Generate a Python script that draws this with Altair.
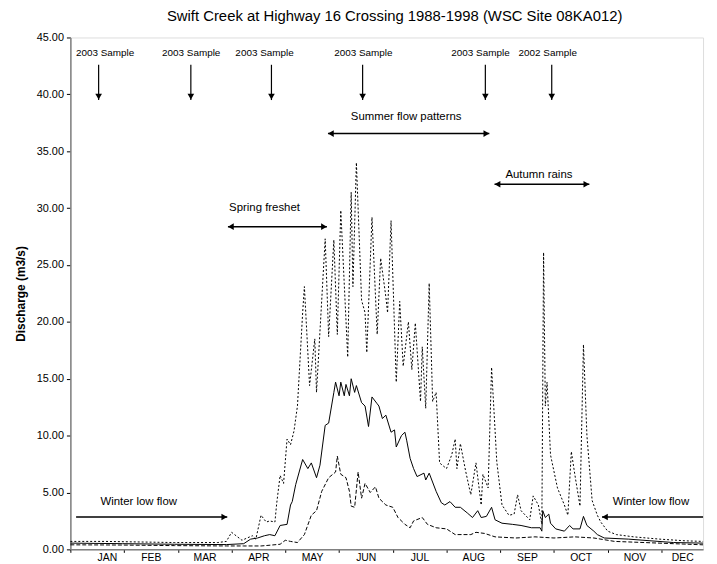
import altair as alt
import pandas as pd

# ---------------- data (day of year, discharge m3/s) ----------------
max_days = [0, 20, 40, 60, 85, 90, 93, 99, 102, 105, 107, 110, 113, 115, 118, 119, 121, 123, 125, 127,
            129, 131, 134, 135, 138, 141, 142, 147, 149, 152, 154, 156, 160, 162, 163, 165, 168, 170,
            171, 174, 177, 179, 182, 183, 185, 188, 190, 192, 195, 197, 199, 202, 203, 205, 207, 209,
            211, 213, 217, 220, 222, 223, 225, 228, 231, 234, 237, 238, 241, 243, 246, 249, 253, 256,
            258, 260, 265, 267, 270, 272, 273, 274, 275, 277, 281, 285, 287, 289, 291, 294, 296, 298,
            301, 304, 306, 310, 315, 325, 340, 355, 365]
max_vals = [0.7, 0.7, 0.65, 0.6, 0.6, 0.7, 1.5, 0.8, 1.0, 1.2, 0.9, 3.0, 2.4, 2.5, 2.4, 4.0, 6.5, 5.8, 9.7, 9.2,
            10.4, 12.6, 20.8, 23.1, 14.4, 18.5, 13.8, 27.3, 18.7, 27.2, 18.9, 29.8, 16.9, 31.4, 23.1, 34.0, 21.9, 20.8,
            17.3, 29.2, 18.9, 25.6, 22.2, 20.8, 28.9, 14.7, 21.8, 16.1, 20.0, 15.8, 19.9, 13.0, 17.8, 12.4, 23.4, 13.0,
            13.8, 7.6, 7.1, 8.3, 9.7, 7.1, 9.3, 6.9, 4.8, 7.6, 3.9, 6.6, 5.4, 16.0, 7.7, 3.9, 3.0, 3.1,
            4.8, 3.4, 2.6, 4.7, 3.9, 2.2, 26.1, 12.6, 14.7, 8.3, 5.4, 3.9, 3.0, 8.6, 6.6, 3.8, 18.0, 10.0,
            4.3, 3.0, 2.4, 1.6, 1.3, 1.1, 0.9, 0.75, 0.7]

mean_days = [0, 30, 60, 90, 100, 104, 108, 112, 115, 118, 121, 125, 127, 128, 130, 134, 137, 139, 142, 144,
             147, 149, 152, 153, 155, 156, 158, 159, 161, 162, 164, 165, 168, 170, 172, 174, 177, 178, 180,
             182, 185, 187, 188, 191, 193, 194, 196, 198, 200, 204, 205, 207, 211, 214, 216, 219, 222, 225,
             229, 232, 235, 237, 240, 243, 245, 249, 255, 260, 266, 271, 272, 272.5, 274, 276, 277, 280,
             285, 288, 290, 294, 296, 298, 302, 304, 308, 322, 335, 348, 365]
mean_vals = [0.55, 0.5, 0.45, 0.42, 0.5, 0.9, 1.0, 1.2, 1.3, 1.2, 2.1, 2.2, 3.9, 4.2, 5.7, 7.9, 7.1, 7.6, 6.3, 7.4,
             10.9, 11.1, 13.8, 14.7, 13.5, 14.7, 13.5, 14.5, 13.5, 15.0, 13.8, 14.4, 12.9, 12.6, 10.8, 13.4, 12.8, 12.6, 11.5,
             11.8, 10.3, 10.5, 9.0, 10.0, 10.3, 9.6, 8.0, 7.1, 6.4, 6.7, 6.1, 6.7, 5.1, 4.1, 3.9, 4.2, 3.7, 3.7,
             3.2, 2.8, 3.4, 2.8, 2.9, 3.7, 2.6, 2.3, 2.2, 2.1, 1.9, 1.9, 1.6, 3.4, 2.8, 3.1, 2.3, 1.8,
             1.6, 2.1, 1.8, 1.8, 2.9, 2.1, 1.6, 1.3, 1.0, 0.9, 0.75, 0.6, 0.55]

min_days = [0, 30, 60, 90, 100, 110, 114, 121, 124, 127, 131, 135, 139, 142, 145, 149, 153, 154, 156, 159,
            161, 162, 164, 166, 168, 170, 173, 176, 178, 182, 186, 189, 193, 196, 198, 203, 206, 211, 217,
            222, 231, 234, 239, 245, 257, 268, 279, 291, 302, 314, 331, 348, 365]
min_vals = [0.4, 0.38, 0.33, 0.3, 0.3, 0.3, 0.35, 0.45, 0.8, 0.7, 0.6, 1.3, 3.0, 3.4, 5.1, 6.3, 6.8, 8.2, 6.6, 6.3,
            5.1, 3.8, 3.7, 6.8, 4.5, 5.8, 5.0, 5.5, 4.5, 3.9, 3.7, 2.8, 2.2, 1.9, 2.5, 2.8, 2.2, 1.9, 1.8,
            1.3, 1.3, 1.5, 1.4, 1.1, 1.0, 1.1, 1.0, 1.1, 1.0, 0.7, 0.6, 0.5, 0.4]

months = ["JAN", "FEB", "MAR", "APR", "MAY", "JUN", "JUL", "AUG", "SEP", "OCT", "NOV", "DEC"]
month_starts = [0, 31, 62, 93, 124, 155, 186, 217, 248, 279, 310, 341]
y_ticks = [0, 5, 10, 15, 20, 25, 30, 35, 40, 45]

# sample markers (vertical arrows)
sample_text = ["2003 Sample", "2003 Sample", "2003 Sample", "2003 Sample", "2003 Sample", "2002 Sample"]
sample_text_day = [20, 69.7, 112, 169, 236.6, 275.4]
sample_text_val = [43.6, 43.6, 43.6, 43.6, 43.6, 43.6]
sample_arrow_day = [16.3, 69.5, 116, 168.6, 239.4, 277.7]
sample_arrow_top = [42.6, 42.6, 42.6, 42.6, 42.6, 42.6]
sample_arrow_tip = [39.5, 39.5, 39.5, 39.5, 39.5, 39.5]

# period annotations (horizontal arrows)
period_text = ["Summer flow patterns", "Autumn rains", "Spring freshet", "Winter low flow", "Winter low flow"]
period_text_day = [193.7, 270.3, 112, 39.4, 334.9]
period_text_val = [38.0, 32.9, 29.97, 4.18, 4.18]
period_from = [148.6, 244.7, 90.9, 3.3, 306.7]
period_to = [241.7, 299.4, 148.0, 90.5, 365]
period_val = [36.55, 32.1, 28.37, 2.85, 2.85]

head_day = [150.3, 240.0, 246.4, 297.7, 92.6, 146.3, 88.8, 308.4]
head_val = [36.55, 36.55, 32.1, 32.1, 28.37, 28.37, 2.85, 2.85]
head_shape = ["triangle-left", "triangle-right", "triangle-left", "triangle-right",
              "triangle-left", "triangle-right", "triangle-right", "triangle-left"]

# ---------------- tables ----------------
df_max = pd.DataFrame({"day": max_days, "q": max_vals})
df_mean = pd.DataFrame({"day": mean_days, "q": mean_vals})
df_min = pd.DataFrame({"day": min_days, "q": min_vals})
df_stxt = pd.DataFrame({"day": sample_text_day, "q": sample_text_val, "t": sample_text})
df_sarr = pd.DataFrame({"day": sample_arrow_day, "top": sample_arrow_top, "tip": sample_arrow_tip})
df_shead = pd.DataFrame({"day": sample_arrow_day, "q": [v + 0.3 for v in sample_arrow_tip]})
df_ptxt = pd.DataFrame({"day": period_text_day, "q": period_text_val, "t": period_text})
df_parr = pd.DataFrame({"d1": period_from, "d2": period_to, "q": period_val})
df_phead = pd.DataFrame({"day": head_day, "q": head_val, "s": head_shape})

FONT = "Liberation Sans"

label_expr = "[" + ",".join("'%s'" % m for m in months) + "][round(datum.value/31)]"

x_enc = alt.X(
    "day:Q",
    scale=alt.Scale(domain=[0, 365], nice=False, zero=False),
    axis=alt.Axis(
        values=month_starts, labelExpr=label_expr, title=None, grid=False,
        labelOffset={"condition": {"test": "datum.value == 341", "value": 21}, "value": 27},
        tickSize=3, tickColor="#000000", labelFontSize=10.5, labelPadding=0,
        domainColor="#808080", domainWidth=1.5, labelColor="#000000", labelFont=FONT,
    ),
)
y_enc = alt.Y(
    "q:Q",
    scale=alt.Scale(domain=[0, 45], nice=False),
    axis=alt.Axis(
        values=y_ticks, format=".2f", title="Discharge (m3/s)", grid=False,
        tickSize=4, tickColor="#000000", labelFontSize=11, labelPadding=3,
        domainColor="#808080", domainWidth=1.5, labelColor="#000000", labelFont=FONT,
        titleFont=FONT, titleFontSize=12, titleFontWeight="bold", titlePadding=9, titleColor="#000000",
    ),
)

line_max = alt.Chart(df_max).mark_line(color="black", strokeWidth=1, strokeDash=[2, 2]).encode(x=x_enc, y=y_enc)
line_mean = alt.Chart(df_mean).mark_line(color="black", strokeWidth=1).encode(x="day:Q", y="q:Q")
line_min = alt.Chart(df_min).mark_line(color="black", strokeWidth=1, strokeDash=[4, 2]).encode(x="day:Q", y="q:Q")

s_text = alt.Chart(df_stxt).mark_text(font=FONT, fontSize=10, color="black").encode(
    x="day:Q", y="q:Q", text="t:N")
s_rule = alt.Chart(df_sarr).mark_rule(color="black", strokeWidth=1.2).encode(
    x="day:Q", y="top:Q", y2="tip:Q")
s_head = alt.Chart(df_shead).mark_point(shape="triangle-down", filled=True, color="black", size=45, opacity=1).encode(
    x="day:Q", y="q:Q")

p_text = alt.Chart(df_ptxt).mark_text(font=FONT, fontSize=11.5, color="black").encode(
    x="day:Q", y="q:Q", text="t:N")
p_rule = alt.Chart(df_parr).mark_rule(color="black", strokeWidth=1.5).encode(
    x="d1:Q", x2="d2:Q", y="q:Q")
p_head = alt.Chart(df_phead).mark_point(filled=True, color="black", size=45, opacity=1).encode(
    x="day:Q", y="q:Q", shape=alt.Shape("s:N", scale=None, legend=None))

chart = alt.layer(
    line_max, line_mean, line_min, s_rule, s_head, s_text, p_rule, p_head, p_text
).properties(
    width=639, height=517,
    title=alt.TitleParams(
        "Swift Creek at Highway 16 Crossing 1988-1998 (WSC Site 08KA012)",
        font=FONT, fontSize=15, fontWeight="normal", color="black", offset=8, anchor="middle", dx=8,
    ),
    autosize=alt.AutoSizeParams(type="none"),
    padding={"left": 63, "top": 27, "right": 6, "bottom": 12},
).configure_view(
    stroke="#808080", strokeWidth=1
).configure(background="white")

chart.save("out.html", embed_options={"renderer": "svg", "actions": False})
